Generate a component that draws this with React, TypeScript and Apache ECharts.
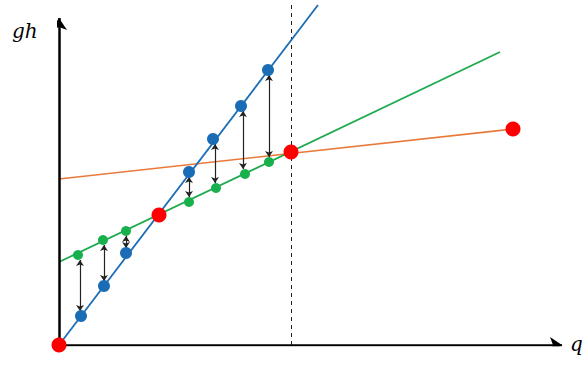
import React, { useEffect, useRef } from "react";
import * as echarts from "echarts";

// Coordinates in plot units (origin at the axes' corner)
const blueX = [22, 45, 67, 130, 154, 182, 209];
const blueY = [29, 59, 92, 173, 206, 239, 275];
const greenX = [19, 44, 67, 130, 157, 186, 210];
const greenY = [90, 105, 114, 143, 157, 171, 183];
const redX = [0, 100, 232, 454];
const redY = [0, 130, 193, 216];
const blueLine = [[0, 0], [259, 340]];
const greenLine = [[0, 83], [441, 293]];
const orangeLine = [[0, 166], [454, 216]];
const dashedX = 232;
const dashedTop = 340;
const xAxisEnd = 503;
const yAxisEnd = 327;
const xLabel = "q";
const yLabel = "gh";

export default function App() {
  const ref = useRef<HTMLDivElement>(null);
  useEffect(() => {
    const chart = echarts.init(ref.current!, null, { renderer: "svg" });
    const gap = 5;
    const arrows = blueX.map((bx, i) => {
      const x = Math.round((bx + greenX[i]) / 2);
      const lo = Math.min(blueY[i], greenY[i]);
      const hi = Math.max(blueY[i], greenY[i]);
      return { coords: [[x, lo + gap], [x, hi - gap]] };
    });
    chart.setOption({
      animation: false,
      grid: { left: 59, right: 0, top: 0, bottom: 25 },
      xAxis: { type: "value", min: 0, max: 528, show: false },
      yAxis: { type: "value", min: 0, max: 345, show: false },
      series: [
        {
          type: "lines",
          coordinateSystem: "cartesian2d",
          data: [{ coords: [[dashedX, 0], [dashedX, dashedTop]] }],
          symbol: ["none", "none"],
          lineStyle: { color: "#222", width: 1, type: [4, 4], opacity: 1 },
          silent: true,
          z: 1,
        },
        {
          type: "line",
          data: orangeLine,
          showSymbol: false,
          lineStyle: { color: "#E8793A", width: 1.6 },
          clip: false,
          z: 2,
        },
        {
          type: "line",
          data: greenLine,
          showSymbol: false,
          lineStyle: { color: "#1DAA4E", width: 1.8 },
          clip: false,
          z: 2,
        },
        {
          type: "line",
          data: blueLine,
          showSymbol: false,
          lineStyle: { color: "#1B6DB6", width: 1.8 },
          clip: false,
          z: 2,
        },
        {
          type: "lines",
          coordinateSystem: "cartesian2d",
          data: arrows,
          symbol: ["arrow", "arrow"],
          symbolSize: 6,
          lineStyle: { color: "#222", width: 1.2, opacity: 1 },
          z: 3,
        },
        {
          type: "lines",
          coordinateSystem: "cartesian2d",
          data: [
            { coords: [[0, 0], [xAxisEnd, 0]] },
            { coords: [[0, 0], [0, yAxisEnd]] },
          ],
          symbol: ["none", "arrow"],
          symbolSize: 12,
          lineStyle: { color: "#000", width: 2.5, opacity: 1 },
          z: 4,
        },
        {
          type: "scatter",
          data: greenX.map((x, i) => [x, greenY[i]]),
          symbolSize: 10,
          itemStyle: { color: "#17B04C", opacity: 1 },
          clip: false,
          z: 5,
        },
        {
          type: "scatter",
          data: blueX.map((x, i) => [x, blueY[i]]),
          symbolSize: 12,
          itemStyle: { color: "#1A6CB4", opacity: 1 },
          clip: false,
          z: 5,
        },
        {
          type: "scatter",
          data: redX.map((x, i) => [x, redY[i]]),
          symbolSize: 15,
          itemStyle: { color: "#FF0000", opacity: 1 },
          clip: false,
          z: 6,
        },
      ],
      graphic: [
        {
          type: "text",
          left: 12,
          top: 21,
          style: {
            text: yLabel,
            font: "italic 20px 'DejaVu Serif', serif",
            fill: "#000",
          },
        },
        {
          type: "text",
          left: 570,
          top: 334,
          style: {
            text: xLabel,
            font: "italic 20px 'DejaVu Serif', serif",
            fill: "#000",
          },
        },
      ],
    });
    return () => chart.dispose();
  }, []);
  return (
    <div
      ref={ref}
      style={{ position: "absolute", left: 0, top: 0, width: 587, height: 370, background: "#fff" }}
    />
  );
}
